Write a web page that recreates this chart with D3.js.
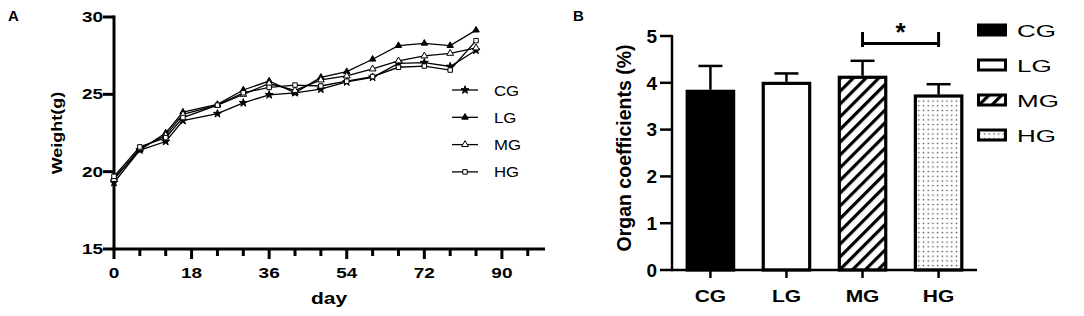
<!DOCTYPE html>
<html>
<head>
<meta charset="utf-8">
<script src="https://cdn.jsdelivr.net/npm/d3@7"></script>
<style>
html,body{margin:0;padding:0;background:#fff;}
svg{display:block;font-family:"Liberation Sans",Arial,sans-serif;}
</style>
</head>
<body>
<svg id="chart" width="1084" height="316"></svg>
<script>
// ---------- Data: panel A (body weight) ----------
const days = [0, 6, 12, 16, 24, 30, 36, 42, 48, 54, 60, 66, 72, 78, 84];
const weightCG = [19.3, 21.4, 21.95, 23.3, 23.75, 24.45, 24.97, 25.1, 25.33, 25.8, 26.1, 27.0, 27.05, 26.8, 27.85];
const weightLG = [19.6, 21.4, 22.5, 23.85, 24.35, 25.28, 25.86, 25.1, 26.1, 26.47, 27.27, 28.15, 28.3, 28.15, 29.15];
const weightMG = [19.5, 21.5, 22.35, 23.7, 24.3, 25.0, 25.7, 25.25, 25.93, 26.19, 26.64, 27.16, 27.48, 27.65, 28.0];
const weightHG = [19.7, 21.6, 22.2, 23.5, 24.3, 25.1, 25.45, 25.6, 25.54, 25.85, 26.15, 26.75, 26.83, 26.57, 28.47];
const groups = ["CG", "LG", "MG", "HG"];
const weightXTicks = [0, 18, 36, 54, 72, 90];
const weightYTicks = [15, 20, 25, 30];

// ---------- Data: panel B (organ coefficients) ----------
const organMean = [3.85, 4.02, 4.15, 3.75];
const organErr = [0.51, 0.18, 0.32, 0.22];
const organYTicks = [0, 1, 2, 3, 4, 5];

const svg = d3.select("#chart");

function txt(g, s, x, y, opt) {
  opt = opt || {};
  return g.append("text")
    .attr("transform", `translate(${x},${y}) rotate(${opt.rot || 0}) scale(${opt.sx || 1},${opt.sy || 1})`)
    .attr("text-anchor", opt.anchor || "middle")
    .attr("font-size", opt.size || 14)
    .attr("font-weight", opt.weight || "bold")
    .attr("fill", "#000")
    .text(s);
}

// ================= Panel A =================
const gA = svg.append("g");
const xA = d3.scaleLinear().domain([0, 100]).range([114, 545]);
const yA = d3.scaleLinear().domain([15, 30]).range([249, 17]);

txt(gA, "A", 8, 21, {anchor: "start", size: 15});

gA.append("line").attr("x1", xA(0)).attr("x2", xA(0)).attr("y1", yA(30) - 1.5).attr("y2", yA(15) + 1.5)
  .attr("stroke", "#000").attr("stroke-width", 3);
gA.append("line").attr("x1", xA(0) - 1.5).attr("x2", xA(100)).attr("y1", yA(15)).attr("y2", yA(15))
  .attr("stroke", "#000").attr("stroke-width", 3);

weightYTicks.forEach(v => {
  gA.append("line").attr("x1", xA(0) - 11).attr("x2", xA(0)).attr("y1", yA(v)).attr("y2", yA(v))
    .attr("stroke", "#000").attr("stroke-width", 3);
  txt(gA, String(v), xA(0) - 11, yA(v) + 5, {anchor: "end", size: 19, sy: 0.75});
});
d3.range(0, 97, 6).forEach(v => {
  const major = weightXTicks.includes(v);
  gA.append("line").attr("x1", xA(v)).attr("x2", xA(v)).attr("y1", yA(15)).attr("y2", yA(15) + (major ? 10 : 7))
    .attr("stroke", "#000").attr("stroke-width", 3);
});
weightXTicks.forEach(v => {
  txt(gA, String(v), xA(v), 277.5, {size: 19, sy: 0.75});
});
txt(gA, "day", 329, 304, {size: 21, sy: 0.75});
txt(gA, "Weight(g)", 62, 133, {size: 18, rot: -90, sy: 0.85});

const seriesA = [
  {name: "CG", vals: weightCG, sym: d3.symbolStar, fill: "#000", size: 20},
  {name: "LG", vals: weightLG, sym: d3.symbolTriangle, fill: "#000", size: 18},
  {name: "MG", vals: weightMG, sym: d3.symbolTriangle, fill: "#fff", size: 20},
  {name: "HG", vals: weightHG, sym: d3.symbolSquare, fill: "#fff", size: 20}
];
const line = d3.line().x(d => xA(d[0])).y(d => yA(d[1]));
seriesA.forEach(s => {
  const pts = days.map((d, i) => [d, s.vals[i]]);
  gA.append("path").attr("d", line(pts)).attr("fill", "none").attr("stroke", "#000").attr("stroke-width", 1.3);
  gA.selectAll(null).data(pts).enter().append("path")
    .attr("transform", d => `translate(${xA(d[0])},${yA(d[1])})`)
    .attr("d", d3.symbol().type(s.sym).size(s.size))
    .attr("fill", s.fill).attr("stroke", "#000").attr("stroke-width", 1);
});
seriesA.forEach((s, i) => {
  const y = 90 + i * 27.3;
  gA.append("line").attr("x1", 452).attr("x2", 478).attr("y1", y).attr("y2", y).attr("stroke", "#000").attr("stroke-width", 1.3);
  gA.append("path").attr("transform", `translate(465,${y})`).attr("d", d3.symbol().type(s.sym).size(s.size))
    .attr("fill", s.fill).attr("stroke", "#000").attr("stroke-width", 1);
  txt(gA, s.name, 494, y + 5.5, {anchor: "start", size: 16, weight: "normal", sx: 1.05, sy: 0.9});
});

// ================= Panel B =================
const gB = svg.append("g");
const defs = svg.append("defs");
const hatch = defs.append("pattern").attr("id", "hatch").attr("patternUnits", "userSpaceOnUse")
  .attr("width", 9).attr("height", 9).attr("patternTransform", "rotate(45)");
hatch.append("rect").attr("width", 9).attr("height", 9).attr("fill", "#fff");
hatch.append("rect").attr("x", 0).attr("width", 3.2).attr("height", 9).attr("fill", "#000");
const dots = defs.append("pattern").attr("id", "dots").attr("patternUnits", "userSpaceOnUse")
  .attr("width", 4.7).attr("height", 4.7);
dots.append("rect").attr("width", 4.7).attr("height", 4.7).attr("fill", "#fff");
dots.append("circle").attr("cx", 2.35).attr("cy", 2.35).attr("r", 0.8).attr("fill", "#444");
const fills = ["#000", "#fff", "url(#hatch)", "url(#dots)"];

const xB = d3.scaleBand().domain(groups).range([672, 977]).paddingInner(0.35).paddingOuter(0.18);
const yB = d3.scaleLinear().domain([0, 5]).range([270, 36]);

txt(gB, "B", 573, 21, {anchor: "start", size: 15});

groups.forEach((g, i) => {
  const x0 = xB(g) + 1.5, w = xB.bandwidth() - 3;
  const cx = xB(g) + xB.bandwidth() / 2;
  gB.append("line").attr("x1", cx).attr("x2", cx).attr("y1", yB(organMean[i])).attr("y2", yB(organMean[i] + organErr[i]))
    .attr("stroke", "#000").attr("stroke-width", 2.5);
  gB.append("line").attr("x1", cx - 12).attr("x2", cx + 12).attr("y1", yB(organMean[i] + organErr[i])).attr("y2", yB(organMean[i] + organErr[i]))
    .attr("stroke", "#000").attr("stroke-width", 2.5);
  gB.append("rect").attr("x", x0).attr("y", yB(organMean[i]) + 1.5).attr("width", w)
    .attr("height", yB(0) - yB(organMean[i]) - 1.5)
    .attr("fill", fills[i]).attr("stroke", "#000").attr("stroke-width", 3.2);
});

gB.append("line").attr("x1", 672).attr("x2", 672).attr("y1", yB(5) - 1).attr("y2", yB(0) + 1.2)
  .attr("stroke", "#000").attr("stroke-width", 2.5);
gB.append("line").attr("x1", 672).attr("x2", 977).attr("y1", yB(0)).attr("y2", yB(0))
  .attr("stroke", "#000").attr("stroke-width", 2.5);
organYTicks.forEach(v => {
  gB.append("line").attr("x1", 660).attr("x2", 672).attr("y1", yB(v)).attr("y2", yB(v)).attr("stroke", "#000").attr("stroke-width", 2.5);
  txt(gB, String(v), 657, yB(v) + 6.7, {anchor: "end", size: 19});
});
groups.forEach(g => {
  const cx = xB(g) + xB.bandwidth() / 2;
  gB.append("line").attr("x1", cx).attr("x2", cx).attr("y1", yB(0)).attr("y2", yB(0) + 8).attr("stroke", "#000").attr("stroke-width", 2.5);
  txt(gB, g, cx, 301.5, {size: 21, sy: 0.8});
});
txt(gB, "Organ coefficients (%)", 631, 148, {size: 19.5, rot: -90});

const cMG = xB("MG") + xB.bandwidth() / 2, cHG = xB("HG") + xB.bandwidth() / 2;
gB.append("line").attr("x1", cMG).attr("x2", cHG).attr("y1", 43.5).attr("y2", 43.5).attr("stroke", "#000").attr("stroke-width", 3);
[cMG, cHG].forEach(c => gB.append("line").attr("x1", c).attr("x2", c).attr("y1", 32).attr("y2", 47).attr("stroke", "#000").attr("stroke-width", 3));
txt(gB, "*", (cMG + cHG) / 2, 41, {size: 26});

groups.forEach((g, i) => {
  const y = 30 + i * 35;
  gB.append("rect").attr("x", 978.5).attr("y", y - 5).attr("width", 27).attr("height", 10)
    .attr("fill", fills[i]).attr("stroke", "#000").attr("stroke-width", 3);
  txt(gB, g, 1017, y + 6.5, {anchor: "start", size: 20, weight: "normal", sx: 1.3, sy: 0.8});
});
</script>
</body>
</html>
